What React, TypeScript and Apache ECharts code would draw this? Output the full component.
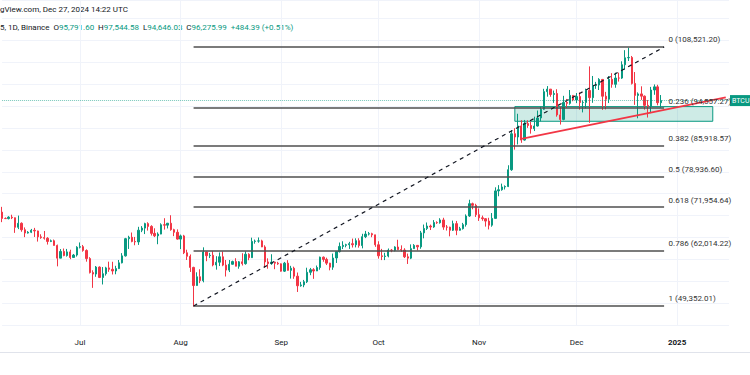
import React, { useEffect, useRef } from "react";
import * as echarts from "echarts";

// ---- data: daily candles [open, close, low, high] ----
const firstDate = "2024-06-07";
const jun = [
  [70792, 69355, 68500, 71997], [69355, 69310, 69210, 69582],
  [69310, 69648, 69130, 69850], [69648, 69508, 69200, 70195], [69508, 67322, 66051, 69565], [67322, 68241, 66906, 69999],
  [68241, 66757, 66304, 68450], [66757, 66012, 65078, 67294], [66012, 66191, 65890, 66450], [66191, 66640, 66001, 66950],
  [66640, 66490, 65117, 67190], [66490, 65140, 64060, 66570], [65140, 64960, 64693, 65727], [64960, 64829, 64507, 66483],
  [64829, 64096, 63379, 65067], [64096, 64253, 63943, 64526], [64253, 63180, 63150, 64524], [63180, 60277, 58402, 63369],
  [60277, 61806, 60276, 62350], [61806, 60865, 60712, 62479], [60865, 61707, 60628, 62380], [61707, 60427, 60035, 62200],
  [60427, 60986, 60397, 61230], [60986, 62772, 60630, 63000],
];
const jul = [
  [62772, 62900, 62496, 63861], [62900, 62029, 61750, 63289], [62029, 60173, 59471, 62285], [60173, 56977, 56771, 60498],
  [56977, 56639, 53485, 57500], [56639, 58231, 56013, 58475], [58231, 55857, 55724, 58400], [55857, 56714, 54260, 58236],
  [56714, 58050, 56289, 58296], [58050, 57725, 57147, 59470], [57725, 57339, 56542, 59450], [57339, 57889, 56592, 58526],
  [57889, 59204, 57780, 59850], [59204, 60797, 59077, 61420], [60797, 64724, 60632, 64900], [64724, 65043, 62377, 65389],
  [65043, 64088, 63900, 66128], [64088, 63987, 63220, 65123], [63987, 66661, 63300, 67433], [66661, 67139, 66221, 67598],
  [67139, 68165, 65777, 68366], [68165, 67533, 66574, 68474], [67533, 65936, 65442, 67792], [65936, 65372, 65087, 67102],
  [65372, 65777, 63456, 66165], [65777, 67912, 65730, 68237], [67912, 67813, 66800, 69400], [67813, 68255, 67065, 68319],
  [68255, 66784, 66544, 70079], [66784, 66188, 65300, 66990], [66188, 64628, 64500, 66849],
];
const aug = [
  [64628, 65354, 62340, 65659], [65354, 61499, 61200, 65597], [61499, 60697, 59852, 62199], [60697, 58161, 57122, 61117],
  [58161, 54018, 49200, 58305], [54018, 56022, 53962, 57040], [56022, 55134, 54566, 57736], [55134, 61685, 54750, 62745],
  [61685, 60837, 59575, 61744], [60837, 60923, 60288, 61470], [60923, 58712, 58409, 61858], [58712, 59346, 57650, 60720],
  [59346, 60587, 58472, 61578], [60587, 58683, 58433, 61800], [58683, 57541, 56078, 59847], [57541, 58874, 57098, 59849],
  [58874, 59491, 58783, 59700], [59491, 58427, 58418, 60260], [58427, 59438, 57862, 59617], [59438, 59013, 58589, 61396],
  [59013, 61156, 58783, 61820], [61156, 60381, 59800, 61400], [60381, 64103, 60345, 64955], [64103, 64178, 63578, 64521],
  [64178, 64219, 63800, 65000], [64219, 62834, 62800, 64481], [62834, 59415, 58116, 63212], [59415, 59034, 57860, 60235],
  [59034, 59359, 58745, 61166], [59359, 59123, 57752, 59450], [59123, 58973, 58744, 59433],
];
const sep = [
  [58973, 57301, 57201, 59067], [57301, 59132, 57120, 59410], [59132, 57487, 57415, 59815], [57487, 57970, 55606, 58519],
  [57970, 56160, 55555, 58327], [56160, 53962, 52550, 56995], [53962, 54160, 53745, 54850], [54160, 54869, 53629, 55300],
  [54869, 57042, 54583, 58088], [57042, 57635, 56383, 58041], [57635, 57338, 55545, 57991], [57338, 58132, 57324, 58588],
  [58132, 60499, 57633, 60625], [60499, 59993, 59449, 60656], [59993, 59132, 58700, 60381], [59132, 58213, 57493, 59210],
  [58213, 60309, 57610, 61320], [60309, 61759, 59174, 61786], [61759, 62947, 61565, 63850], [62947, 63201, 62350, 64133],
  [63201, 63348, 62757, 63559], [63348, 63578, 62380, 64000], [63578, 63339, 62700, 64745], [63339, 64262, 62734, 64804],
  [64262, 63152, 62670, 64817], [63152, 65173, 62515, 65839], [65173, 65769, 64850, 66498], [65769, 65858, 65458, 66260],
  [65858, 65602, 65059, 66076], [65602, 63327, 62856, 65618],
];
const oct = [
  [63327, 60805, 60164, 64131], [60805, 60649, 59828, 62392], [60649, 60752, 59828, 61500], [60752, 62086, 60460, 62484],
  [62086, 62058, 61640, 62370], [62058, 62819, 61828, 62983], [62819, 62224, 62120, 64478], [62224, 62131, 61729, 63200],
  [62131, 60583, 60300, 62543], [60583, 60275, 58946, 61321], [60275, 62445, 60049, 63417], [62445, 63193, 62410, 63480],
  [63193, 62851, 62050, 63285], [62851, 66046, 62422, 66500], [66046, 67042, 64800, 67950], [67042, 67612, 66700, 68424],
  [67612, 67399, 66700, 67939], [67399, 68418, 67200, 68969], [68418, 68362, 68105, 68694], [68362, 69001, 68158, 69400],
  [69001, 67368, 66750, 69500], [67368, 67362, 66581, 67836], [67362, 66653, 65260, 67451], [66653, 68161, 66475, 68850],
  [68161, 66642, 65520, 68774], [66642, 67014, 66566, 67422], [67014, 67929, 66810, 68332], [67929, 69908, 67480, 70270],
  [69908, 72720, 69712, 73620], [72720, 72339, 71436, 72961], [72339, 70215, 69685, 72700],
];
const nov = [
  [70215, 69482, 68779, 71632], [69482, 69289, 68820, 70000], [69289, 68742, 67478, 69429], [68742, 67811, 66835, 69500],
  [67811, 69359, 67450, 70577], [69359, 75640, 69322, 76460], [75640, 75905, 74415, 76954], [75905, 76538, 75682, 77300],
  [76538, 76649, 75966, 76900], [76649, 80474, 76510, 81500], [80474, 88701, 80216, 89530], [88701, 87955, 85072, 89956],
  [87955, 90485, 86256, 93265], [90485, 87251, 86628, 91790], [87251, 91032, 87121, 91850], [91032, 90587, 90051, 91779],
  [90587, 89855, 88722, 91449], [89855, 90464, 89313, 92594], [90464, 92310, 90350, 94002], [92310, 94286, 91520, 94900],
  [94286, 98317, 94136, 98966], [98317, 98893, 97172, 99588], [98893, 97672, 97150, 98871], [97672, 97900, 95756, 98564],
  [97900, 93010, 92600, 98871], [93010, 91966, 90791, 94973], [91966, 95863, 91780, 97360], [95863, 95643, 94650, 96650],
  [95643, 97461, 95338, 98693], [97461, 96407, 96123, 97500],
];
const dec = [
  [96407, 97185, 95692, 98000], [97185, 95840, 94200, 98130], [95840, 95849, 93578, 96297], [95849, 98587, 94500, 99000],
  [98587, 96945, 91200, 104088], [96945, 99740, 95770, 101898], [99740, 99831, 98955, 100549], [99831, 101109, 98692, 101400],
  [101109, 97276, 94150, 101215], [97276, 96593, 94256, 98270], [96593, 101125, 95711, 101895], [101125, 100000, 99215, 102540],
  [100000, 101424, 99205, 102650], [101424, 101420, 100612, 102650], [101420, 104463, 101234, 105250], [104463, 106058, 103333, 107793],
  [106058, 106133, 105320, 108353], [106133, 100204, 99950, 106470], [100204, 97461, 95300, 102800], [97461, 97805, 92232, 98150],
  [97805, 97291, 96426, 99540], [97291, 95187, 94202, 97448], [95187, 94900, 92403, 96416], [94900, 98694, 93408, 99404],
  [98694, 99411, 97600, 99962], [99411, 95791.6, 95200, 99884], [95791.6, 96275.99, 94646.03, 97544.58],
];

// ---- Fibonacci retracement & drawings ----
const fibRatios = ["0", "0.236", "0.382", "0.5", "0.618", "0.786", "1"];
const fibPrices = [108521.2, 94557.27, 85918.57, 78936.6, 71954.64, 62014.22, 49352.01];
const fibStart = "2024-08-05";
const fibEnd = "2024-12-28";
const redLineStart: [string, number] = ["2024-11-14", 87500];
const redLineEnd: [string, number] = ["2025-01-16", 97030];
const boxStart: [string, number] = ["2024-11-12", 94900];
const boxEnd: [string, number] = ["2025-01-12", 91550];
const lastPrice = 96275.99;
const lastPriceTag = "BTCU";
const monthStarts = ["2024-07-01", "2024-08-01", "2024-09-01", "2024-10-01", "2024-11-01", "2024-12-01", "2025-01-01"];
const monthLabels = ["Jul", "Aug", "Sep", "Oct", "Nov", "Dec", "2025"];
const headerLine1 = "gView.com, Dec 27, 2024 14:22 UTC";
const headerSymbol = "5, 1D, Binance";
const headerOHLC = [["O", "95,791.60"], ["H", "97,544.58"], ["L", "94,646.03"], ["C", "96,275.99"]];
const headerChange = "+484.39 (+0.51%)";

const UP = "#089981";
const DOWN = "#f23645";
const FONT = "Roboto, 'Liberation Sans', sans-serif";

// category days (axis slots), Jun 7 2024 .. Jan 17 2025
const DAY = 86400000;
const startMs = Date.UTC(2024, 5, 7);
const categories: string[] = [];
for (let i = 0; i <= 224; i++) categories.push(new Date(startMs + i * DAY).toISOString().slice(0, 10));

const fmt = (v: number) => v.toLocaleString("en-US", { minimumFractionDigits: 2, maximumFractionDigits: 2 });

export default function App() {
  const ref = useRef<HTMLDivElement>(null);
  useEffect(() => {
    const chart = echarts.init(ref.current!, null, { renderer: "svg" });
    const candles = [...jun, ...jul, ...aug, ...sep, ...oct, ...nov, ...dec];
    const offset = categories.indexOf(firstDate);
    const data: any[] = categories.map((_, i) => {
      const c = candles[i - offset];
      return c ? c : "-";
    });

    const fibLines = fibPrices.map((p) => [
      { coord: [fibStart, p], lineStyle: { color: "#4f4f4f", width: 1.7, type: "solid" }, label: { show: false } },
      { coord: [fibEnd, p] },
    ]);
    const fibLabels = fibPrices.map((p, i) => ({
      coord: [fibEnd, p],
      symbol: "circle",
      symbolSize: 1,
      itemStyle: { color: "rgba(0,0,0,0)" },
      label: {
        show: true,
        position: "right",
        distance: 4,
        offset: [0, -7],
        formatter: `${fibRatios[i]} (${fmt(p)})`,
        color: "#333333",
        fontSize: 8,
        fontFamily: FONT,
      },
    }));

    const isMonth = (_: number, v: string) => monthStarts.includes(v);

    chart.setOption({
      animation: false,
      backgroundColor: "#ffffff",
      textStyle: { fontFamily: FONT },
      grid: { left: 2.12, top: 0, width: 726.88, height: 325 },
      xAxis: {
        type: "category",
        data: categories,
        boundaryGap: false,
        axisLine: { show: false },
        axisTick: { show: false },
        axisLabel: {
          interval: isMonth,
          margin: 13,
          color: "#131722",
          fontSize: 8,
          fontFamily: FONT,
          formatter: (v: string) => {
            const k = monthStarts.indexOf(v);
            if (k < 0) return "";
            return monthLabels[k] === "2025" ? "{b|2025}" : monthLabels[k];
          },
          rich: { b: { fontWeight: "bold", fontSize: 8, color: "#131722", fontFamily: FONT } },
        },
        splitLine: { show: true, interval: isMonth, lineStyle: { color: "#f0f3fa", width: 1 } },
      },
      yAxis: {
        type: "value",
        min: 45000,
        max: 119258,
        interval: 5000,
        position: "right",
        axisLabel: { show: false },
        axisLine: { show: false },
        axisTick: { show: false },
        splitLine: { show: true, lineStyle: { color: "#f0f3fa", width: 1 } },
      },
      series: [
        {
          type: "candlestick",
          data,
          barWidth: 1.8,
          itemStyle: { color: UP, color0: DOWN, borderColor: UP, borderColor0: DOWN, borderWidth: 1 },
          markArea: {
            silent: true,
            itemStyle: { color: "rgba(8,153,129,0.2)", borderColor: UP, borderWidth: 1 },
            data: [[{ coord: boxStart }, { coord: boxEnd }]],
          },
          markPoint: {
            silent: true,
            data: fibLabels,
          },
          markLine: {
            silent: true,
            symbol: ["none", "none"],
            label: { show: false },
            data: [
              ...fibLines,
              [
                { coord: [fibStart, fibPrices[6]], lineStyle: { color: "#131722", width: 1.2, type: [4, 4] }, label: { show: false } },
                { coord: [fibEnd, fibPrices[0]] },
              ],
              [
                { coord: redLineStart, lineStyle: { color: DOWN, width: 1.8, type: "solid" }, label: { show: false } },
                { coord: redLineEnd },
              ],
              {
                yAxis: lastPrice,
                lineStyle: { color: "rgba(8,153,129,0.55)", width: 1, type: "dotted" },
                label: {
                  show: true,
                  position: "end",
                  formatter: lastPriceTag,
                  color: "#ffffff",
                  backgroundColor: UP,
                  padding: [2, 1, 2, 2],
                  distance: 1,
                  fontSize: 7,
                  fontFamily: FONT,
                },
              },
            ],
          },
        },
      ],
      graphic: [
        {
          type: "text",
          x: 0,
          y: 9,
          style: { text: headerLine1, fill: "#131722", fontSize: 8, fontFamily: FONT, verticalAlign: "middle" },
        },
        {
          type: "text",
          x: 0,
          y: 27,
          style: {
            text:
              `{d|${headerSymbol}}  ` +
              headerOHLC.map(([k, v]) => `{d|${k}}{g|${v}}`).join("  ") +
              `  {g|${headerChange}}`,
            fontSize: 8,
            fontFamily: FONT,
            verticalAlign: "middle",
            rich: {
              d: { fill: "#131722", fontSize: 8, fontFamily: FONT },
              g: { fill: UP, fontSize: 8, fontFamily: FONT },
            },
          },
        },
        {
          type: "line",
          shape: { x1: 0, y1: 352.5, x2: 750, y2: 352.5 },
          style: { stroke: "#e0e3eb", lineWidth: 1 },
        },
      ],
    });
    return () => chart.dispose();
  }, []);
  return (
    <div
      ref={ref}
      style={{ position: "absolute", left: 0, top: 0, width: 750, height: 375, background: "#ffffff" }}
    />
  );
}
